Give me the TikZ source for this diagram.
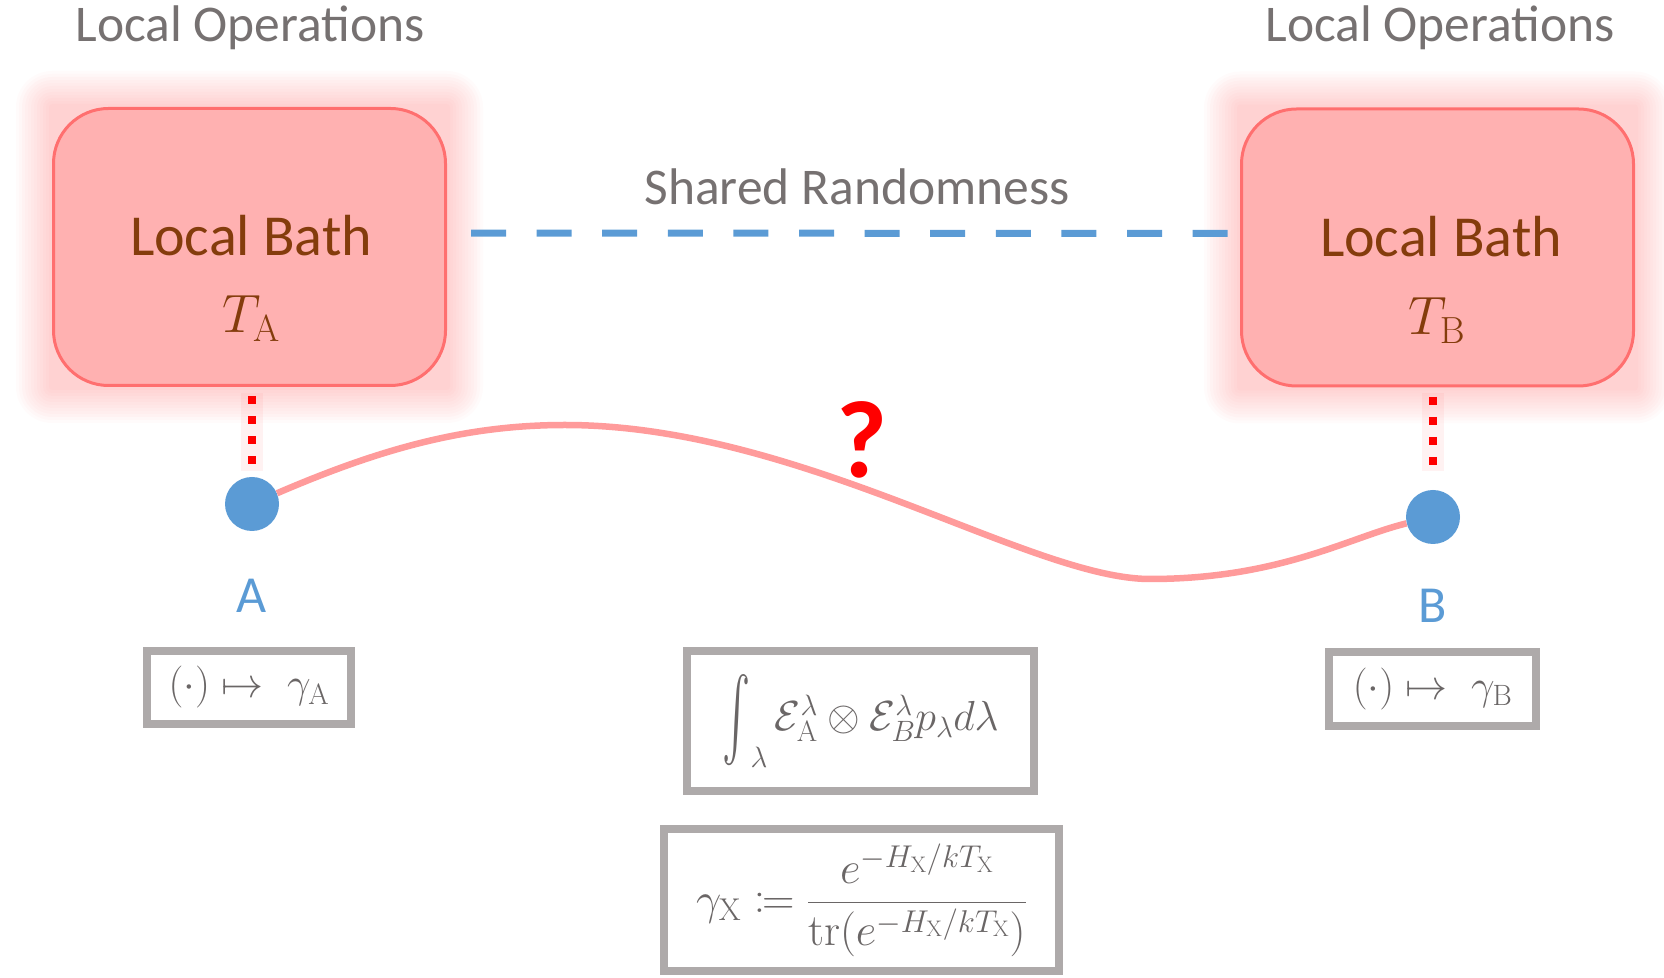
\RequirePackage{fix-cm}
\documentclass[tikz,border=0pt]{standalone}
\usepackage{exscale}
\usepackage{graphicx}
\usepackage{mathtools}
\usepackage[no-math]{fontspec}
\setmainfont{Carlito}
\usepackage{tikz}
\usepackage{color}
\usetikzlibrary{backgrounds}

\definecolor{opgray}{HTML}{767171}
\definecolor{mathgray}{HTML}{6A6666}
\definecolor{boxgray}{HTML}{AEAAAA}
\definecolor{bathfill}{HTML}{FFB1B1}
\definecolor{bathline}{HTML}{FF6F6F}
\definecolor{bathglow}{HTML}{FF4D4D}
\definecolor{bathbrown}{HTML}{843C0C}
\definecolor{partyblue}{HTML}{5B9BD5}
\definecolor{linkred}{HTML}{FF9B9B}

\newcommand{\tallint}{\mathop{\vcenter{\hbox{\scalebox{1.7}[3.3]{$\int$}}}}\nolimits}

\begin{document}
\begin{tikzpicture}[x=1pt,y=1pt,
  bath/.style={draw=bathline,line width=3pt,fill=bathfill,rounded corners=55pt,
    minimum width=392pt,minimum height=277pt,inner sep=0pt},
  bathtext/.style={text=bathbrown,font=\fontsize{58}{70}\selectfont,anchor=base},
  optext/.style={text=opgray,font=\fontsize{51.5}{62}\selectfont,anchor=base},
  party/.style={circle,fill=partyblue,minimum size=54pt,inner sep=0pt},
  partytext/.style={text=partyblue,font=\fontsize{52}{62}\selectfont,anchor=base},
  formula/.style={draw=boxgray,line width=8pt,text=mathgray,inner sep=0pt,
    font=\fontsize{42}{50}\selectfont},
  tether/.style={draw=red,line width=8pt,dash pattern=on 8pt off 12pt},
  shared/.style={draw=partyblue,line width=7pt,dash pattern=on 35pt off 30.6pt},
  link/.style={draw=linkred,line width=6.5pt}]
\useasboundingbox (0,0) rectangle (1664,977);

\node[bath] (bathA) at (249.5,730) {};
\node[bath] (bathB) at (1437.5,729.5) {};
\node[optext] (opsA) at (250,935) {Local Operations};
\node[optext] (opsB) at (1440,935) {Local Operations};
\node[bathtext] (nameA) at (251,721) {Local Bath};
\node[bathtext] (nameB) at (1441,720) {Local Bath};
\node[bathtext,font=\fontsize{54}{64}\selectfont] (tempA) at (251,644) {$T_{\mathrm{A}}$};
\node[bathtext,font=\fontsize{54}{64}\selectfont] (tempB) at (1437,642) {$T_{\mathrm{B}}$};

\node[optext] (shared) at (857,772) {Shared Randomness};
\draw[shared,shorten <=24pt,shorten >=12pt] ([yshift=14pt]bathA.east) -- ([yshift=14pt]bathB.west);

\node[party] (partyA) at (252,473) {};
\node[party] (partyB) at (1433,460) {};
\node[partytext] (labelA) at (252,364) {A};
\node[partytext] (labelB) at (1433,354) {B};

\draw[tether,shorten <=9.5pt,shorten >=10pt] (partyA.north |- bathA.south) -- (partyA.north);
\draw[tether,shorten <=9.5pt,shorten >=23pt] (partyB.north |- bathB.south) -- (partyB.north);

\coordinate (crest) at (565,552);
\coordinate (trough) at (1150,398);
\draw[link] (partyA) .. controls (380,528) and (465,552) .. (crest)
  .. controls (800,552) and (1030,398) .. (trough)
  .. controls (1280,398) and (1350,440) .. (partyB);
\node[text=red,font=\bfseries\fontsize{110}{120}\selectfont,anchor=base] (query) at (862,499) {?};

\node[formula,minimum width=204pt,minimum height=73pt] (mapA) at (249,289.5)
  {$(\cdot)\mapsto\;\gamma_{\mathrm{A}}$};
\node[formula,minimum width=207pt,minimum height=74pt] (mapB) at (1432.5,288)
  {$(\cdot)\mapsto\;\gamma_{\mathrm{B}}$};
\node[formula,minimum width=347pt,minimum height=140pt] (channel) at (860.5,256)
  {$\tallint_{\lambda}\mathcal{E}_{\mathrm{A}}^{\lambda}\otimes\mathcal{E}_{B}^{\lambda}p_{\lambda}d\lambda$};
\node[formula,minimum width=395pt,minimum height=142pt,font=\fontsize{45}{54}\selectfont] (gibbs) at (861.5,77)
  {$\gamma_{\mathrm{X}}\coloneqq\dfrac{e^{-H_{\mathrm{X}}/kT_{\mathrm{X}}}}{\mathrm{tr}(e^{-H_{\mathrm{X}}/kT_{\mathrm{X}}})}$};

\begin{scope}[on background layer]
\foreach \b in {bathA,bathB}
  \foreach \d [evaluate=\d as \rad using 55+\d] in {3,6,...,36}
    \fill[bathglow,opacity=0.025,rounded corners=\rad pt]
      ([shift={(-\d,-\d)}]\b.south west) rectangle ([shift={(\d,\d)}]\b.north east);
\draw[bathglow,opacity=0.07,line width=22pt,shorten <=6pt,shorten >=6pt] (partyA.north |- bathA.south) -- (partyA.north);
\draw[bathglow,opacity=0.07,line width=22pt,shorten <=6pt,shorten >=19pt] (partyB.north |- bathB.south) -- (partyB.north);
\end{scope}
\end{tikzpicture}
\end{document}
